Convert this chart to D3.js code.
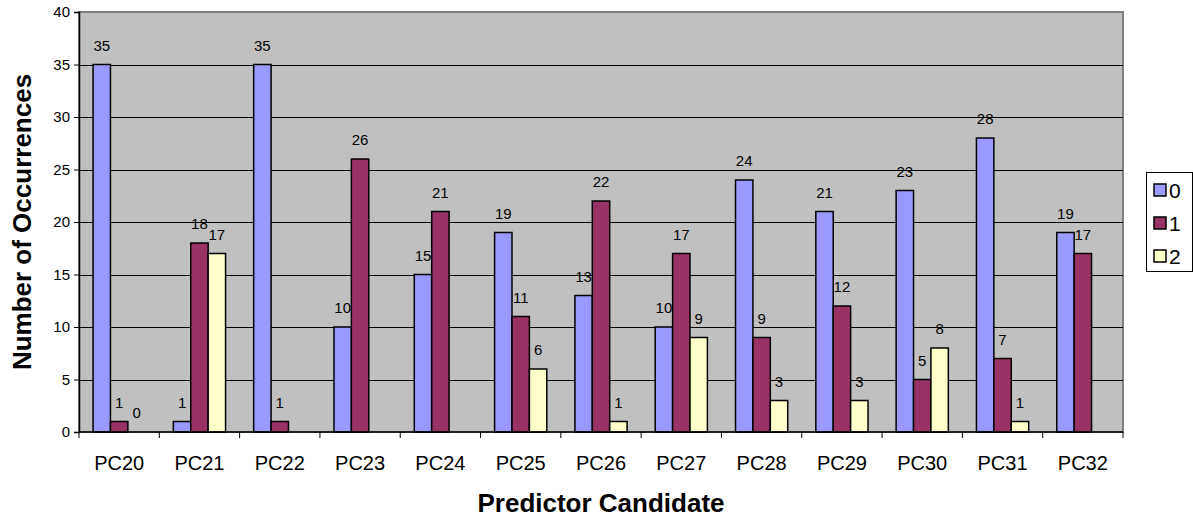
<!DOCTYPE html>
<html>
<head>
<meta charset="utf-8">
<script src="https://cdn.jsdelivr.net/npm/d3@7"></script>
<style>
  html, body { margin: 0; padding: 0; background: #ffffff; }
  svg { display: block; font-family: "Liberation Sans", Arial, sans-serif; }
</style>
</head>
<body>
<svg id="chart" width="1193" height="520"></svg>
<script>
const categories = ["PC20","PC21","PC22","PC23","PC24","PC25","PC26","PC27","PC28","PC29","PC30","PC31","PC32"];
const seriesNames = ["0","1","2"];
const series0 = [35,1,35,10,15,19,13,10,24,21,23,28,19];
const series1 = [1,18,1,26,21,11,22,17,9,12,5,7,17];
const series2 = [0,17,null,null,null,6,1,9,3,3,8,1,null];
const yTicks = [0,5,10,15,20,25,30,35,40];
const colors = ["#9999ff","#993366","#ffffcc"];

(function () {
const allSeries = [series0, series1, series2];
const svg = d3.select("#chart");
const pL = 79, pR = 1123, pT = 12, pB = 432;

const x = d3.scaleBand().domain(categories).range([pL, pR]).paddingInner(0).paddingOuter(0);
const inner = d3.scaleBand().domain(seriesNames).range([0, x.bandwidth()]).paddingInner(0).paddingOuter(0.808);
const y = d3.scaleLinear().domain([0, 40]).range([pB, pT]);

// plot background
svg.append("rect").attr("x", pL).attr("y", pT).attr("width", pR-pL).attr("height", pB-pT)
  .attr("fill", "#c0c0c0").attr("stroke", "#808080").attr("stroke-width", 2);

// gridlines
svg.append("g").selectAll("line").data(yTicks.filter(d => d > 0 && d < 40)).join("line")
  .attr("x1", pL).attr("x2", pR).attr("y1", d => Math.round(y(d))+0.5).attr("y2", d => Math.round(y(d))+0.5)
  .attr("stroke", "#000").attr("stroke-width", 1);

// bars
const groups = svg.append("g").selectAll("g").data(categories).join("g")
  .attr("transform", c => `translate(${x(c)},0)`);
seriesNames.forEach((s, si) => {
  const vals = allSeries[si];
  groups.filter((c, i) => vals[i] !== null && vals[i] > 0)
    .append("rect")
    .attr("x", inner(s))
    .attr("width", inner.bandwidth())
    .attr("y", c => y(vals[categories.indexOf(c)]))
    .attr("height", c => pB - y(vals[categories.indexOf(c)]))
    .attr("fill", colors[si]).attr("stroke", "#000").attr("stroke-width", 1.5);
  groups.filter((c, i) => vals[i] !== null)
    .append("text")
    .attr("x", inner(s) + inner.bandwidth()/2)
    .attr("y", c => y(vals[categories.indexOf(c)]) - 14)
    .attr("text-anchor", "middle").attr("font-size", 15).attr("fill", "#000")
    .text(c => vals[categories.indexOf(c)]);
});

// y axis
const yAxis = d3.axisLeft(y).tickValues(yTicks).tickSize(5).tickPadding(4);
const yg = svg.append("g").attr("transform", `translate(${pL},0)`).call(yAxis);
yg.select(".domain").attr("stroke", "#000").attr("stroke-width", 1.5);
yg.selectAll(".tick text").attr("font-size", 15).attr("font-family", "Liberation Sans, Arial, sans-serif").attr("fill", "#000");

// x axis
const xg = svg.append("g").attr("transform", `translate(0,${pB})`);
xg.append("line").attr("x1", pL).attr("x2", pR).attr("y1", 0).attr("y2", 0).attr("stroke", "#000").attr("stroke-width", 1.5);
const tickPos = categories.map(c => x(c)).concat([pR]);
xg.selectAll("line.tk").data(tickPos).join("line").attr("class","tk")
  .attr("x1", d => d).attr("x2", d => d).attr("y1", 0).attr("y2", 6).attr("stroke", "#000");
xg.selectAll("text").data(categories).join("text")
  .attr("x", c => x(c) + x.bandwidth()/2).attr("y", 38)
  .attr("text-anchor", "middle").attr("font-size", 20).attr("fill", "#000").text(c => c);

// axis titles
svg.append("text").attr("x", (pL+pR)/2).attr("y", 512).attr("text-anchor", "middle")
  .attr("font-size", 26).attr("font-weight", "bold").text("Predictor Candidate");
svg.append("text").attr("transform", `translate(31,${(pT+pB)/2}) rotate(-90)`).attr("text-anchor", "middle")
  .attr("font-size", 26).attr("font-weight", "bold").text("Number of Occurrences");

// legend
const lg = svg.append("g");
lg.append("rect").attr("x", 1146.5).attr("y", 172.5).attr("width", 46).attr("height", 99)
  .attr("fill", "#fff").attr("stroke", "#000").attr("stroke-width", 1);
seriesNames.forEach((s, i) => {
  const cy = 190 + i*33;
  lg.append("rect").attr("x", 1154).attr("y", cy-6).attr("width", 12).attr("height", 12)
    .attr("fill", colors[i]).attr("stroke", "#000").attr("stroke-width", 1.5);
  lg.append("text").attr("x", 1169).attr("y", cy + 8).attr("font-size", 21).attr("fill", "#000").text(s);
});
})();
</script>
</body>
</html>
